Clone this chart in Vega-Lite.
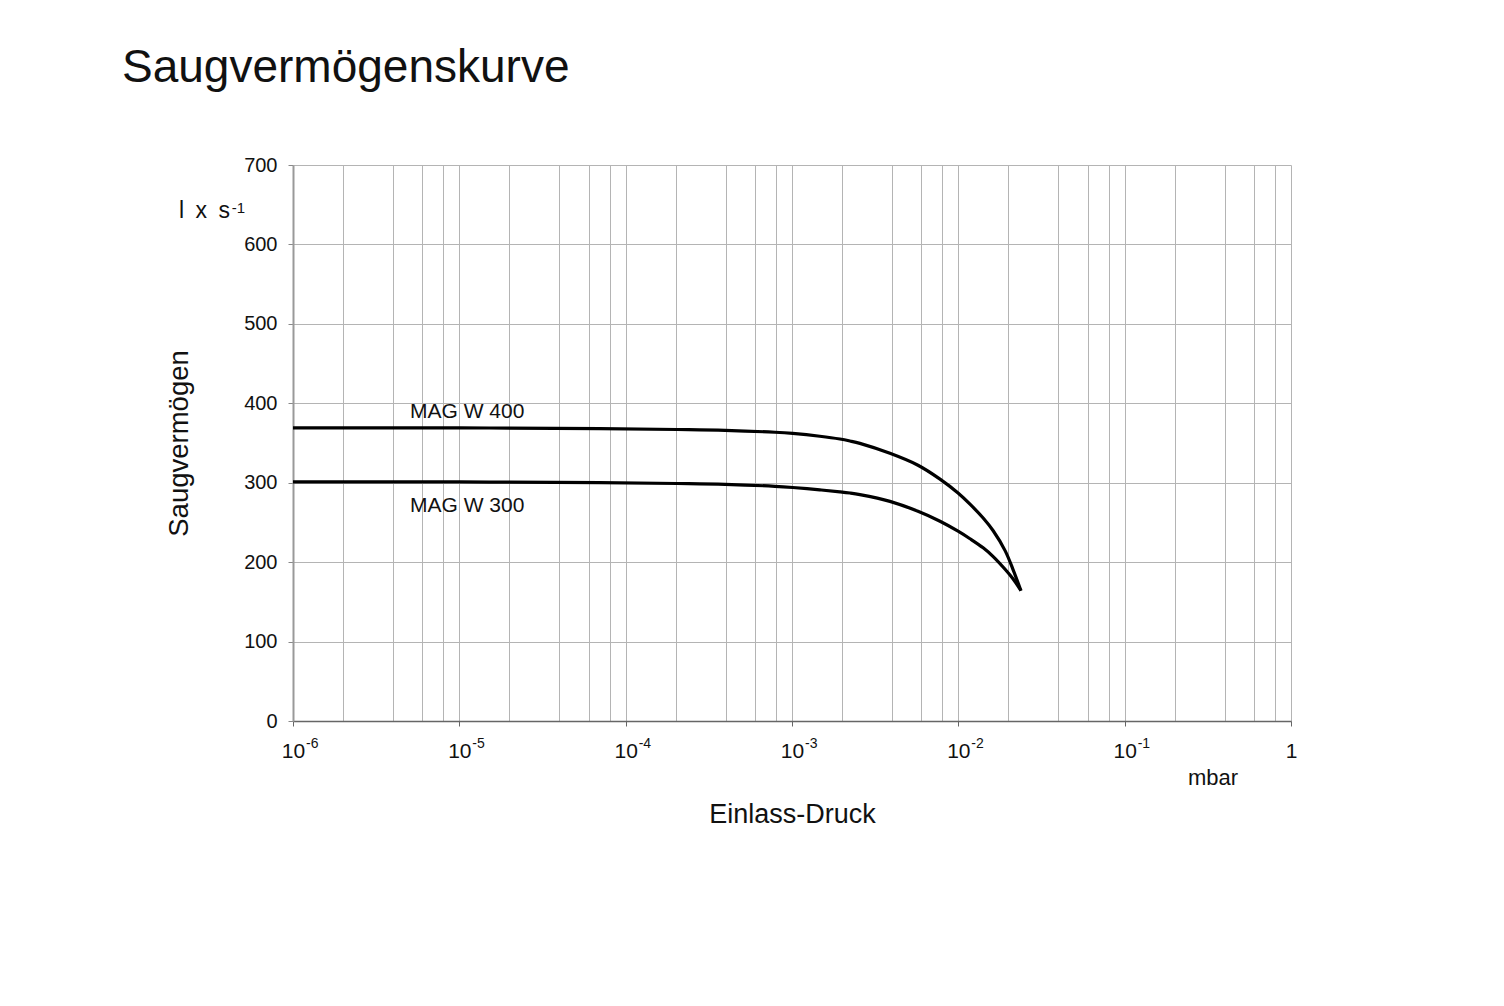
{
  "$schema": "https://vega.github.io/schema/vega-lite/v6.json",
  "width": 998,
  "height": 556,
  "autosize": {"type": "none"},
  "padding": {"left": 293, "top": 165, "right": 213, "bottom": 285},
  "background": "white",
  "config": {
    "view": {"stroke": null},
    "font": "Liberation Sans"
  },
  "title": {
    "text": "Saugvermögenskurve",
    "anchor": "start",
    "frame": "group",
    "dx": -171,
    "offset": 27,
    "baseline": "alphabetic",
    "fontSize": 46,
    "fontWeight": "normal",
    "font": "Liberation Sans",
    "color": "#111111"
  },
  "datasets": {
    "curves": [
      {"serie": "MAG W 400", "p": 1e-6, "s": 369},
      {"serie": "MAG W 400", "p": 1e-5, "s": 369},
      {"serie": "MAG W 400", "p": 7.01e-5, "s": 368},
      {"serie": "MAG W 400", "p": 2.04e-4, "s": 367},
      {"serie": "MAG W 400", "p": 3.96e-4, "s": 366},
      {"serie": "MAG W 400", "p": 7.9e-4, "s": 363.5},
      {"serie": "MAG W 400", "p": 1.01e-3, "s": 362},
      {"serie": "MAG W 400", "p": 1.47e-3, "s": 358.5},
      {"serie": "MAG W 400", "p": 1.94e-3, "s": 355},
      {"serie": "MAG W 400", "p": 2.23e-3, "s": 352.5},
      {"serie": "MAG W 400", "p": 2.56e-3, "s": 349.5},
      {"serie": "MAG W 400", "p": 3.88e-3, "s": 337},
      {"serie": "MAG W 400", "p": 5.72e-3, "s": 322},
      {"serie": "MAG W 400", "p": 7.76e-3, "s": 304.5},
      {"serie": "MAG W 400", "p": 9.96e-3, "s": 287},
      {"serie": "MAG W 400", "p": 1.175e-2, "s": 273},
      {"serie": "MAG W 400", "p": 1.41e-2, "s": 255.5},
      {"serie": "MAG W 400", "p": 1.62e-2, "s": 239.5},
      {"serie": "MAG W 400", "p": 1.91e-2, "s": 214.5},
      {"serie": "MAG W 400", "p": 2.13e-2, "s": 191},
      {"serie": "MAG W 400", "p": 2.38e-2, "s": 164},
      {"serie": "MAG W 300", "p": 1e-6, "s": 301},
      {"serie": "MAG W 300", "p": 1e-5, "s": 301},
      {"serie": "MAG W 300", "p": 7.01e-5, "s": 300},
      {"serie": "MAG W 300", "p": 2.04e-4, "s": 299},
      {"serie": "MAG W 300", "p": 3.96e-4, "s": 298},
      {"serie": "MAG W 300", "p": 7.9e-4, "s": 295.5},
      {"serie": "MAG W 300", "p": 1.01e-3, "s": 294},
      {"serie": "MAG W 300", "p": 1.47e-3, "s": 291},
      {"serie": "MAG W 300", "p": 1.94e-3, "s": 288.5},
      {"serie": "MAG W 300", "p": 2.23e-3, "s": 287},
      {"serie": "MAG W 300", "p": 2.56e-3, "s": 285},
      {"serie": "MAG W 300", "p": 3.88e-3, "s": 276.5},
      {"serie": "MAG W 300", "p": 5.72e-3, "s": 264},
      {"serie": "MAG W 300", "p": 7.76e-3, "s": 251.5},
      {"serie": "MAG W 300", "p": 9.96e-3, "s": 239},
      {"serie": "MAG W 300", "p": 1.175e-2, "s": 229.5},
      {"serie": "MAG W 300", "p": 1.41e-2, "s": 218},
      {"serie": "MAG W 300", "p": 1.62e-2, "s": 207},
      {"serie": "MAG W 300", "p": 1.91e-2, "s": 191},
      {"serie": "MAG W 300", "p": 2.13e-2, "s": 179},
      {"serie": "MAG W 300", "p": 2.38e-2, "s": 164}
    ],
    "labels": [
      {"label": "MAG W 400", "p": 5.05e-6, "s": 381},
      {"label": "MAG W 300", "p": 5.05e-6, "s": 263.5}
    ],
    "exps": [
      {"p": 1e-6, "e": "-6"},
      {"p": 1e-5, "e": "-5"},
      {"p": 1e-4, "e": "-4"},
      {"p": 1e-3, "e": "-3"},
      {"p": 1e-2, "e": "-2"},
      {"p": 1e-1, "e": "-1"}
    ]
  },
  "layer": [
    {
      "data": {"name": "curves"},
      "mark": {"type": "line", "color": "#000000", "strokeWidth": 3.2, "interpolate": "catmull-rom"},
      "encoding": {
        "x": {
          "field": "p", "type": "quantitative",
          "scale": {"type": "log", "domain": [1e-6, 1], "nice": false},
          "axis": {
            "title": "Einlass-Druck",
            "titleFontSize": 27,
            "titleFontWeight": "normal",
            "titleColor": "#111111",
            "titlePadding": 40,
            "values": [1e-6,2e-6,4e-6,6e-6,8e-6,
                       1e-5,2e-5,4e-5,6e-5,8e-5,
                       1e-4,2e-4,4e-4,6e-4,8e-4,
                       1e-3,2e-3,4e-3,6e-3,8e-3,
                       1e-2,2e-2,4e-2,6e-2,8e-2,
                       1e-1,2e-1,4e-1,6e-1,8e-1,1],
            "labelExpr": "abs(log(datum.value)/LN10 - round(log(datum.value)/LN10)) < 1e-6 ? (datum.value > 0.5 ? '1' : '10') : ''",
            "labelOverlap": false,
            "labelBound": false,
            "labelFlush": false,
            "labelFontSize": 21,
            "labelColor": "#111111",
            "labelPadding": 14,
            "tickSize": 5,
            "tickColor": "#666666",
            "tickOpacity": {"condition": {"test": "abs(log(datum.value)/LN10 - round(log(datum.value)/LN10)) < 1e-6", "value": 1}, "value": 0},
            "domainColor": "#666666",
            "domainWidth": 1.5,
            "grid": true,
            "gridColor": "#b4b4b4",
            "gridWidth": 1
          }
        },
        "y": {
          "field": "s", "type": "quantitative",
          "scale": {"domain": [0, 700], "nice": false},
          "axis": {
            "title": "Saugvermögen",
            "titleFontSize": 27.5,
            "titleFontWeight": "normal",
            "titleColor": "#111111",
            "titlePadding": 50,
            "values": [0, 100, 200, 300, 400, 500, 600, 700],
            "labelFontSize": 20,
            "labelColor": "#111111",
            "labelPadding": 11,
            "tickSize": 5,
            "tickColor": "#888888",
            "domainColor": "#999999",
            "domainWidth": 2,
            "grid": true,
            "gridColor": "#b4b4b4",
            "gridWidth": 1
          }
        },
        "detail": {"field": "serie"}
      }
    },
    {
      "data": {"name": "labels"},
      "mark": {"type": "text", "align": "left", "baseline": "alphabetic", "fontSize": 21, "color": "#111111"},
      "encoding": {
        "x": {"field": "p", "type": "quantitative"},
        "y": {"field": "s", "type": "quantitative"},
        "text": {"field": "label"}
      }
    },
    {
      "data": {"name": "exps"},
      "mark": {"type": "text", "align": "left", "baseline": "alphabetic", "fontSize": 14, "dx": 13, "dy": 27, "color": "#111111"},
      "encoding": {
        "x": {"field": "p", "type": "quantitative"},
        "y": {"datum": 0, "type": "quantitative"},
        "text": {"field": "e"}
      }
    },
    {
      "data": {"values": [{"unit": "l\u2002x\u2002s", "sup": "-1", "p": 1e-6, "s": 633}]},
      "layer": [
        {
          "mark": {"type": "text", "align": "right", "baseline": "alphabetic", "fontSize": 23, "dx": -63, "color": "#111111"},
          "encoding": {
            "x": {"field": "p", "type": "quantitative"},
            "y": {"field": "s", "type": "quantitative"},
            "text": {"field": "unit"}
          }
        },
        {
          "mark": {"type": "text", "align": "right", "baseline": "alphabetic", "fontSize": 15, "dx": -48, "dy": -5, "color": "#111111"},
          "encoding": {
            "x": {"field": "p", "type": "quantitative"},
            "y": {"field": "s", "type": "quantitative"},
            "text": {"field": "sup"}
          }
        }
      ]
    },
    {
      "data": {"values": [{"unit": "mbar", "p": 1, "s": 0}]},
      "mark": {"type": "text", "align": "right", "baseline": "alphabetic", "fontSize": 22, "dx": -53, "dy": 64, "color": "#111111"},
      "encoding": {
        "x": {"field": "p", "type": "quantitative"},
        "y": {"field": "s", "type": "quantitative"},
        "text": {"field": "unit"}
      }
    }
  ]
}
